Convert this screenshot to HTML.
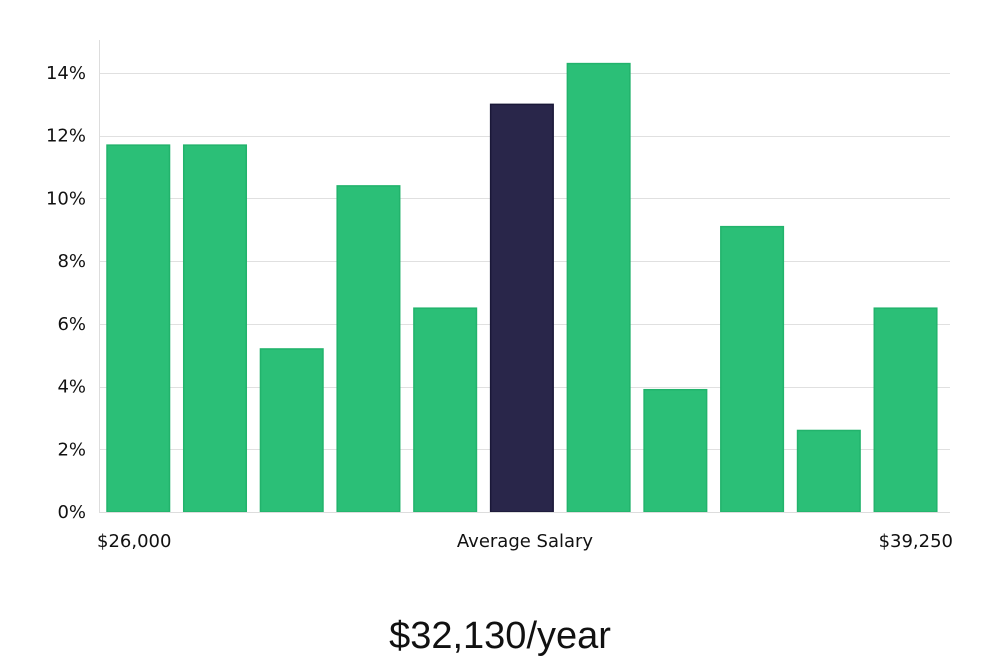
<!DOCTYPE html>
<html><head><meta charset="utf-8"><style>
body{margin:0;background:#fff;width:1000px;height:660px;overflow:hidden;font-family:"DejaVu Sans","Liberation Sans",sans-serif;}
</style></head><body>
<svg width="1000" height="660" id="chart">
<g id="grid"></g><g id="bars"></g><g id="labels"></g>
<line x1="99.5" y1="40" x2="99.5" y2="512" stroke="#ddd"/>
<line x1="99" y1="512.5" x2="950" y2="512.5" stroke="#ddd"/>
<text x="97" y="547" font-size="18" fill="#111">$26,000</text>
<text x="525" y="547" font-size="18" fill="#111" text-anchor="middle">Average Salary</text>
<text x="953" y="547" font-size="18" fill="#111" text-anchor="end">$39,250</text>
<text x="500" y="648" font-size="38" fill="#111" text-anchor="middle" font-family="'Liberation Sans',sans-serif" font-weight="300">$32,130/year</text>
</svg>
<script>
const values=[11.7,11.7,5.2,10.4,6.5,13.0,14.3,3.9,9.1,2.6,6.5];
const highlight=[false,false,false,false,false,true,false,false,false,false,false];
const ticks=[0,2,4,6,8,10,12,14];
const ns="http://www.w3.org/2000/svg";
const y0=512,pxPer=(512-73)/14,left=99,right=950;
const y=v=>y0-v*pxPer;
const step=(right-left-7)/values.length, bw=step*0.815;
const x=i=>left+8+i*step;
const grid=document.getElementById('grid'),bars=document.getElementById('bars'),labels=document.getElementById('labels');
ticks.forEach(t=>{
 if(t>0){const l=document.createElementNS(ns,'line');
 l.setAttribute('x1',left);l.setAttribute('x2',right);l.setAttribute('y1',Math.round(y(t))+.5);l.setAttribute('y2',Math.round(y(t))+.5);l.setAttribute('stroke','#e0e0e0');
 
 
 grid.appendChild(l);}
 const tx=document.createElementNS(ns,'text');
 tx.setAttribute('x',86);tx.setAttribute('y',y(t)+6);tx.setAttribute('text-anchor','end');tx.setAttribute('font-size','18');tx.setAttribute('fill','#111');
 tx.textContent=t+'%';
 
 
 labels.appendChild(tx);
});
values.forEach((v,i)=>{
 const r=document.createElementNS(ns,'rect');
 r.setAttribute('x',x(i));r.setAttribute('y',y(v));r.setAttribute('width',bw);r.setAttribute('height',y0-y(v));
 r.setAttribute('fill',highlight[i]?'#29264a':'#2bbf77');r.setAttribute('stroke',highlight[i]?'#1a1838':'#22b36c');r.setAttribute('stroke-width','1.5');
 
 
 bars.appendChild(r);
});
</script>
</body></html>
